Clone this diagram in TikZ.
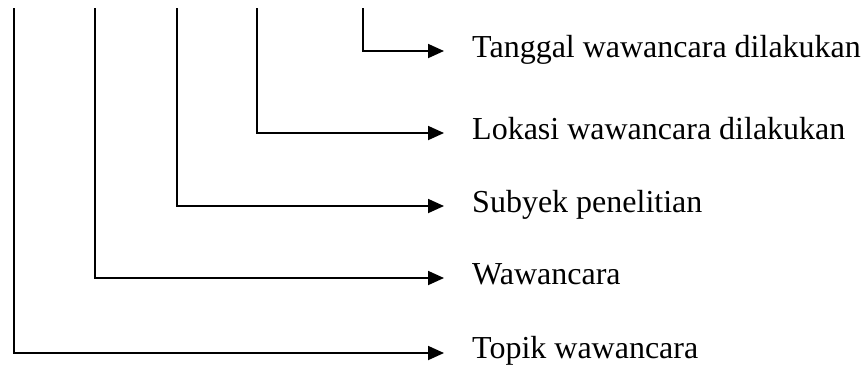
\documentclass[tikz,border=0pt]{standalone}
\usepackage{fontspec}
\setmainfont{Liberation Serif}
\usetikzlibrary{arrows.meta}
\tikzset{
  conn/.style={line width=1.8pt, -{Triangle[length=16pt,width=14pt]}},
  itemtext/.style={anchor=base west, inner sep=0pt, font=\fontsize{32}{38}\selectfont}
}
\begin{document}
\begin{tikzpicture}[x=1pt,y=-1pt]
\useasboundingbox (0,0) rectangle (866,365);
% tops of the vertical lines
\coordinate (s1) at (14,8);
\coordinate (s2) at (95,8);
\coordinate (s3) at (177,8);
\coordinate (s4) at (257,8);
\coordinate (s5) at (363,8);
% labels
\node[itemtext] (tanggal) at (472,57) {Tanggal wawancara dilakukan};
\node[itemtext] (lokasi) at (472,139) {Lokasi wawancara dilakukan};
\node[itemtext] (subyek) at (472,212) {Subyek penelitian};
\node[itemtext] (wawan) at (472,284) {Wawancara};
\node[itemtext] (topik) at (472,358) {Topik wawancara};
% connectors
\draw[conn] (s5) |- ([xshift=-28pt,yshift=6pt]tanggal.base west);
\draw[conn] (s4) |- ([xshift=-28pt,yshift=6pt]lokasi.base west);
\draw[conn] (s3) |- ([xshift=-28pt,yshift=6pt]subyek.base west);
\draw[conn] (s2) |- ([xshift=-28pt,yshift=6pt]wawan.base west);
\draw[conn] (s1) |- ([xshift=-28pt,yshift=5pt]topik.base west);
\end{tikzpicture}
\end{document}
